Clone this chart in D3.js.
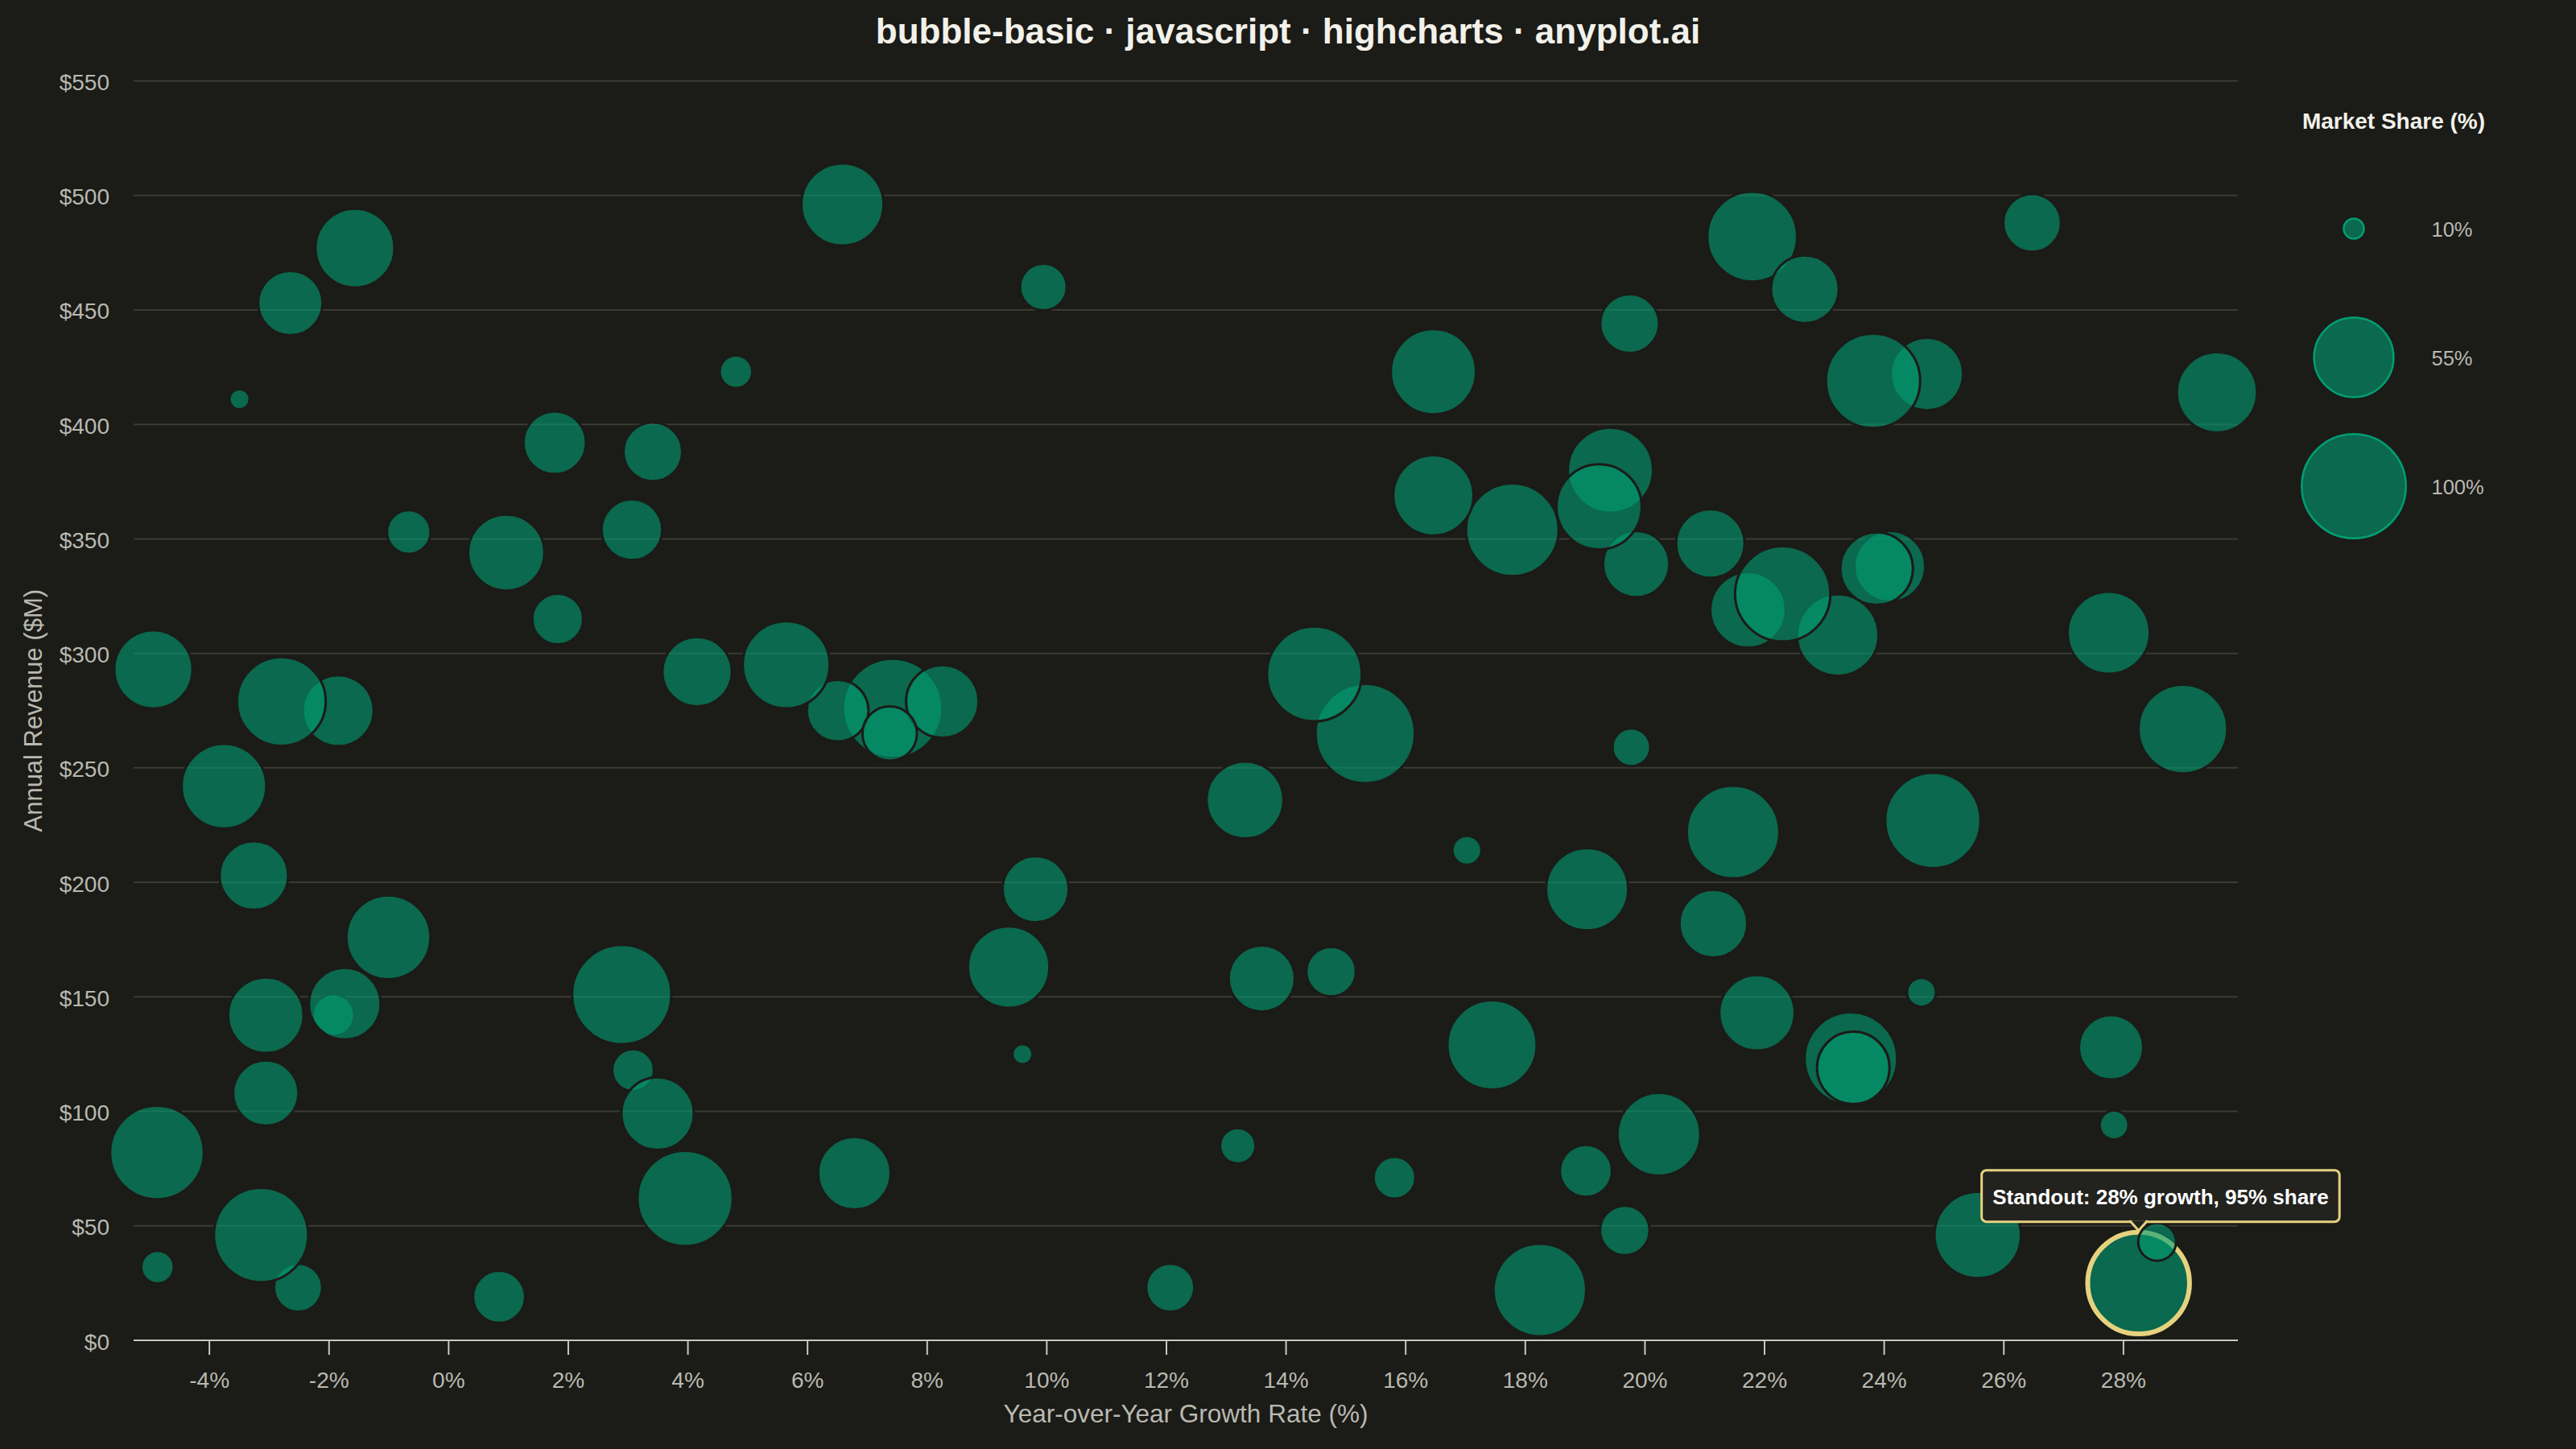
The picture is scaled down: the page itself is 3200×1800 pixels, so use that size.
<!DOCTYPE html>
<html>
<head>
<meta charset="utf-8">
<script src="https://cdn.jsdelivr.net/npm/d3@7"></script>
<style>
  html, body { margin: 0; padding: 0; background: #1b1b17; }
  svg { display: block; }
</style>
</head>
<body>
<svg id="chart" width="3200" height="1800"></svg>
<script>
// ---------------- DATA ----------------
const growthRates = [
  -4.93, -3.49, -2.64, -1.56, -0.66, 0.97, 1.83, 1.78, 3.42, 3.07, 4.81, 6.59, 9.95,
  -1.84, -2.79, 4.16, 7.43, 6.51, 5.65, 8.26, 7.38,
  16.47, 19.75, 21.8, 22.68, 26.48, 24.72, 23.82, 29.57,
  17.79, 16.47, 19.43, 19.86, 19.24, 21.1, 21.73, 23.23, 22.31, 24.1, 23.88, 27.76, 29.0,
  15.33, 14.48,
  -3.75, -3.25, -1.0, -3.05, -1.92, -1.73, -3.05, -4.87, -2.51, -3.13, -4.86, 0.85,
  2.9, 3.09, 3.5, 3.96, 6.79, 9.82, 9.37, 9.6, 12.07, 13.2, 13.32, 13.6,
  19.78, 17.03, 19.04, 21.48, 24.82, 21.15, 14.76, 21.88, 24.63, 17.45, 23.45, 23.49,
  27.8, 27.85, 20.24, 15.82, 19.02, 19.67, 18.25, 25.57
];
const revenues = [
  293, 411, 453, 477, 353, 344, 315, 392, 388, 354, 423, 496, 460,
  275, 279, 292, 276, 275, 295, 279, 265,
  423, 444, 482, 459, 488, 422, 419, 414,
  354, 369, 380, 339, 364, 348, 319, 308, 326, 338, 337, 309, 267,
  265, 291,
  242, 203, 176, 142, 142, 147, 108, 82, 23, 46, 32, 19,
  151, 118, 99, 62, 73, 197, 163, 125, 23, 85, 236, 158,
  259, 214, 197, 222, 227, 182, 161, 143, 152, 129, 123, 119,
  128, 94, 90, 71, 74, 48, 22, 46
];
const marketShares = [
  53, 10, 35, 54, 17, 50, 22, 33, 29, 31, 12, 59, 19,
  43, 70, 41, 90, 32, 67, 45, 25,
  64, 29, 72, 39, 28, 45, 80, 56,
  77, 56, 64, 37, 64, 40, 49, 58, 82, 43, 45, 59, 70,
  90, 81,
  63, 40, 62, 49, 16, 44, 36, 79, 20, 80, 12, 23,
  90, 16, 45, 82, 45, 37, 58, 10, 20, 13, 51, 37,
  14, 11, 59, 77, 82, 39, 21, 49, 11, 71, 77, 45,
  35, 11, 60, 16, 23, 21, 77, 66
];
// highlighted point and the one small bubble drawn over it
const standoutGrowth = [28.26];
const standoutRevenue = [25];
const standoutShare = [95];
const afterGrowth = [28.57];
const afterRevenue = [43];
const afterShare = [14];

const xTickValues = [-4, -2, 0, 2, 4, 6, 8, 10, 12, 14, 16, 18, 20, 22, 24, 26, 28];
const yTickValues = [0, 50, 100, 150, 200, 250, 300, 350, 400, 450, 500, 550];
const legendShares = [10, 55, 100];

const titleText = "bubble-basic · javascript · highcharts · anyplot.ai";
const xTitle = "Year-over-Year Growth Rate (%)";
const yTitle = "Annual Revenue ($M)";
const legendTitle = "Market Share (%)";

// ---------------- STYLE / LAYOUT ----------------
const BG = "#1b1b17";
const GREEN = "#009E73";
const GOLD = "#e6d27e";
const TXT = "#b9b9b1";
const FONT = "'Liberation Sans', Arial, Helvetica, sans-serif";

const plot = { left: 166, right: 2780, top: 100.5, bottom: 1665 };

const svg = d3.select("#chart");
svg.append("rect").attr("width", 3200).attr("height", 1800).attr("fill", BG);

const x = d3.scaleLinear().domain([-5.26, 29.92]).range([plot.left, plot.right]);
const y = d3.scaleLinear().domain([0, 550]).range([plot.bottom, plot.top]);
const zMin = 10, zMax = 100;
const rScale = d3.scaleSqrt().domain([0, zMax - zMin]).range([12.5, 64.7]);
const radius = s => rScale(Math.max(0, s - zMin));

// gridlines
svg.append("g").selectAll("line")
  .data(yTickValues.filter(v => v > 0))
  .join("line")
  .attr("x1", plot.left).attr("x2", plot.right)
  .attr("y1", d => y(d)).attr("y2", d => y(d))
  .attr("stroke", "#3b3b36").attr("stroke-width", 2);

// y axis (labels only)
const yAxis = d3.axisLeft(y).tickValues(yTickValues).tickFormat(d => "$" + d).tickSize(0).tickPadding(0);
const gy = svg.append("g").attr("transform", `translate(136,0)`).call(yAxis);
gy.select(".domain").remove();
gy.selectAll("text")
  .attr("fill", TXT).attr("font-family", FONT).attr("font-size", 28)
  .attr("text-anchor", "end").attr("dy", null).attr("y", 11).attr("x", 0);

// x axis
const xAxis = d3.axisBottom(x).tickValues(xTickValues).tickFormat(d => d + "%").tickSize(18).tickSizeOuter(0).tickPadding(0);
const gx = svg.append("g").attr("transform", `translate(0,${plot.bottom})`).call(xAxis);
gx.select(".domain").attr("stroke", "#c8c8c0").attr("stroke-width", 2)
  .attr("d", `M${plot.left},0H${plot.right}`);
gx.selectAll(".tick line").attr("stroke", "#c8c8c0").attr("stroke-width", 2);
gx.selectAll("text")
  .attr("fill", TXT).attr("font-family", FONT).attr("font-size", 28)
  .attr("dy", null).attr("y", 59);

// axis titles
svg.append("text")
  .attr("x", (plot.left + plot.right) / 2).attr("y", 1767)
  .attr("text-anchor", "middle").attr("fill", TXT)
  .attr("font-family", FONT).attr("font-size", 31.5)
  .text(xTitle);
svg.append("text")
  .attr("transform", `translate(52,${(plot.top + plot.bottom) / 2}) rotate(-90)`)
  .attr("text-anchor", "middle").attr("fill", TXT)
  .attr("font-family", FONT).attr("font-size", 31)
  .text(yTitle);

// title
svg.append("text")
  .attr("x", 1600).attr("y", 54)
  .attr("text-anchor", "middle").attr("fill", "#f2f1ea")
  .attr("font-family", FONT).attr("font-size", 44).attr("font-weight", "bold")
  .text(titleText);

// bubbles
const points = growthRates.map((g, i) => ({ g, rev: revenues[i], s: marketShares[i] }));
const gB = svg.append("g");
gB.selectAll("circle.b")
  .data(points)
  .join("circle").attr("class", "b")
  .attr("cx", d => x(d.g)).attr("cy", d => y(d.rev)).attr("r", d => radius(d.s))
  .attr("fill", GREEN).attr("fill-opacity", 0.6)
  .attr("stroke", BG).attr("stroke-width", 3);

// standout
const standout = standoutGrowth.map((g, i) => ({ g, rev: standoutRevenue[i], s: standoutShare[i] }));
gB.selectAll("circle.s")
  .data(standout)
  .join("circle").attr("class", "s")
  .attr("cx", d => x(d.g)).attr("cy", d => y(d.rev)).attr("r", d => radius(d.s))
  .attr("fill", GREEN).attr("fill-opacity", 0.6)
  .attr("stroke", GOLD).attr("stroke-width", 6);

const after = afterGrowth.map((g, i) => ({ g, rev: afterRevenue[i], s: afterShare[i] }));
gB.selectAll("circle.a")
  .data(after)
  .join("circle").attr("class", "a")
  .attr("cx", d => x(d.g)).attr("cy", d => y(d.rev)).attr("r", d => radius(d.s))
  .attr("fill", GREEN).attr("fill-opacity", 0.6)
  .attr("stroke", BG).attr("stroke-width", 3);

// annotation callout
{
  const d = standout[0];
  const sx = x(d.g), sy = y(d.rev), sr = radius(d.s);
  const tipY = sy - sr - 2;
  const boxBottom = tipY - 11, boxH = 64;
  const boxTop = boxBottom - boxH;
  const boxLeft = sx - 195;
  const gA = svg.append("g");
  const rect = gA.append("rect");
  const ptr = gA.append("path");
  const t = gA.append("text")
    .attr("x", boxLeft + 13.5).attr("y", boxTop + 42)
    .attr("fill", "#ffffff").attr("font-family", FONT)
    .attr("font-size", 26).attr("font-weight", "bold")
    .text(`Standout: ${Math.round(d.g)}% growth, ${d.s}% share`);
  const tw = t.node().getComputedTextLength();
  rect.attr("x", boxLeft).attr("y", boxTop).attr("width", tw + 27).attr("height", boxH)
    .attr("rx", 6).attr("fill", "#22221e").attr("stroke", GOLD).attr("stroke-width", 3);
  ptr.attr("d", `M${sx - 11},${boxBottom - 1.5}L${sx},${tipY}L${sx + 11},${boxBottom - 1.5}`)
    .attr("fill", "#22221e").attr("stroke", GOLD).attr("stroke-width", 3);
}

// legend
svg.append("text")
  .attr("x", 2973.5).attr("y", 160)
  .attr("text-anchor", "middle").attr("fill", "#f2f1ea")
  .attr("font-family", FONT).attr("font-size", 28).attr("font-weight", "bold")
  .text(legendTitle);
const gL = svg.append("g");
const legItems = gL.selectAll("g").data(legendShares).join("g")
  .attr("transform", (d, i) => `translate(2924,${284 + i * 160})`);
legItems.append("circle")
  .attr("r", d => radius(d))
  .attr("fill", GREEN).attr("fill-opacity", 0.6)
  .attr("stroke", GREEN).attr("stroke-width", 2.5);
legItems.append("text")
  .attr("x", 96.5).attr("y", 9.5)
  .attr("fill", TXT).attr("font-family", FONT).attr("font-size", 25.5)
  .text(d => d + "%");
</script>
</body>
</html>
